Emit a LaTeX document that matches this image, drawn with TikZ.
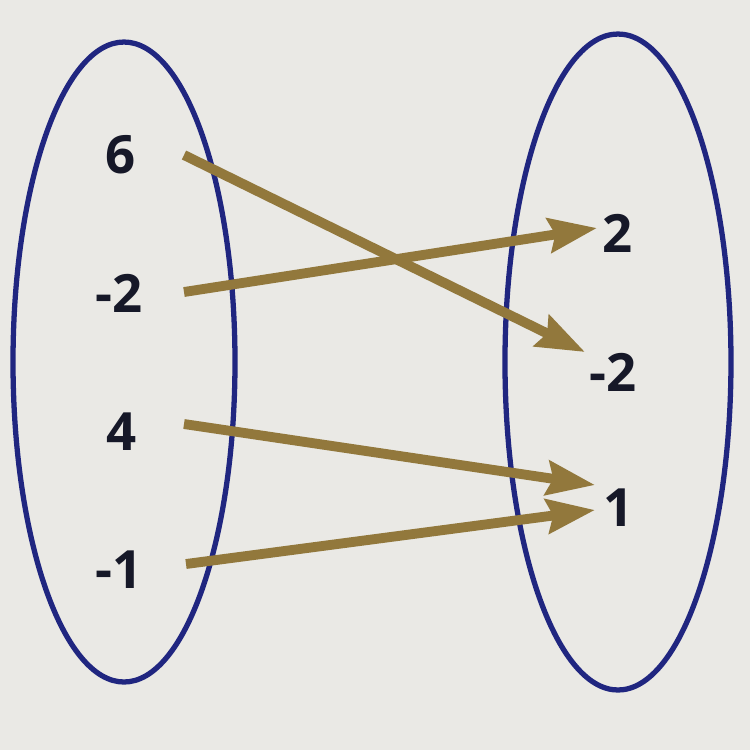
\documentclass[tikz,border=0pt]{standalone}
\usepackage{fontspec}
\setmainfont{Open Sans}
\usetikzlibrary{arrows.meta}
\definecolor{bg}{RGB}{234,233,229}
\definecolor{setblue}{RGB}{32,38,128}
\definecolor{arrowbrown}{RGB}{146,120,60}
\definecolor{ink}{RGB}{22,24,40}
\begin{document}
\begin{tikzpicture}[x=0.01cm,y=-0.01cm,
  setring/.style={draw=setblue,line width=1.5pt},
  val/.style={font=\fontsize{15}{17}\selectfont\bfseries,inner sep=0pt,text=ink},
  maparrow/.style={draw=arrowbrown,line width=2.8pt,-{Stealth[length=0.48cm,width=0.34cm,inset=0.06cm]}}]
\fill[bg] (0,0) rectangle (750,750);
\useasboundingbox (0,0) rectangle (750,750);
\draw[setring] (124,362) ellipse [x radius=111, y radius=320];
\draw[setring] (618,362) ellipse [x radius=113, y radius=328];
\node[val] (a) at (121,155) {6};
\node[val] (b) at (119,293) {-2};
\node[val] (c) at (122,432) {4};
\node[val] (d) at (119,570) {-1};
\node[val] (p) at (618,233) {2};
\node[val] (q) at (613,372) {-2};
\node[val] (r) at (619,508) {1};
\coordinate (a1) at (184,155);
\coordinate (b1) at (184,292);
\coordinate (c1) at (184,424);
\coordinate (d1) at (186,564);
\coordinate (p1) at (597,228);
\coordinate (q1) at (585,352);
\coordinate (r1) at (595,485);
\coordinate (r2) at (595,510);
\draw[maparrow] (a1) -- (q1);
\draw[maparrow] (b1) -- (p1);
\draw[maparrow] (c1) -- (r1);
\draw[maparrow] (d1) -- (r2);
\end{tikzpicture}
\end{document}
